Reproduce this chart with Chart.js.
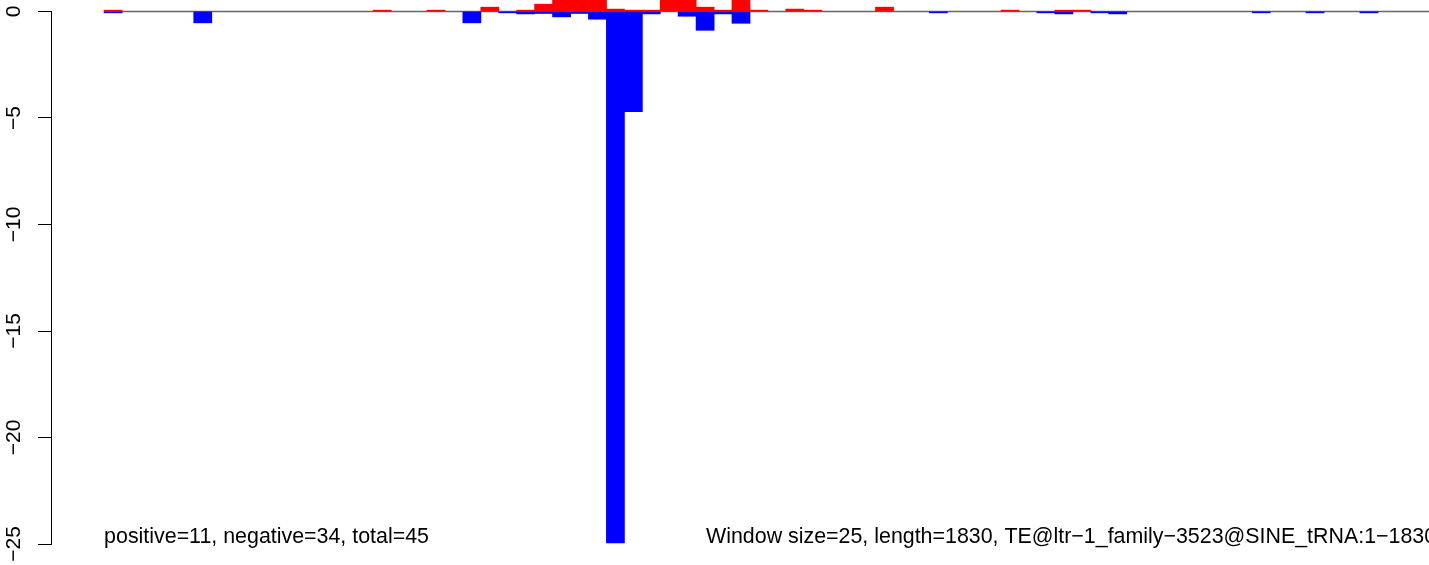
<!DOCTYPE html>
<html>
<head>
<meta charset="utf-8">
<script src="https://cdn.jsdelivr.net/npm/chart.js@4.4.1/dist/chart.umd.min.js"></script>
<style>
  body { margin: 0; background: #fff; }
  canvas { display: block; }
</style>
</head>
<body>
<canvas id="chart" width="1429" height="565"></canvas>
<script>
// window index (1 .. 74), one bar per window of 25
const windows = [
  1, 2, 3, 4, 5, 6, 7, 8, 9, 10, 11, 12, 13, 14, 15, 16, 17, 18, 19, 20,
  21, 22, 23, 24, 25, 26, 27, 28, 29, 30, 31, 32, 33, 34, 35, 36, 37, 38, 39, 40,
  41, 42, 43, 44, 45, 46, 47, 48, 49, 50, 51, 52, 53, 54, 55, 56, 57, 58, 59, 60,
  61, 62, 63, 64, 65, 66, 67, 68, 69, 70, 71, 72, 73, 74
];

// positive score per window (red)
const positive = [
  0.06, 0, 0, 0, 0, 0, 0, 0, 0, 0, 0, 0, 0, 0, 0, 0.06, 0, 0, 0.06, 0,
  0, 0.2, 0, 0.06, 0.34, 0.7, 0.7, 0.7, 0.11, 0.06, 0.06, 0.7, 0.7, 0.2, 0.06, 0.7, 0.06, 0, 0.11, 0.06,
  0, 0, 0, 0.2, 0, 0, 0, 0, 0, 0, 0.06, 0, 0, 0.06, 0.06, 0, 0, 0, 0, 0,
  0, 0, 0, 0, 0, 0, 0, 0, 0, 0, 0, 0, 0, 0
];

// negative score per window (blue)
const negative = [
  -0.06, 0, 0, 0, 0, -0.53, 0, 0, 0, 0, 0, 0, 0, 0, 0, 0, 0, 0, 0, 0,
  -0.53, 0, -0.06, -0.11, -0.09, -0.25, -0.09, -0.36, -24.95, -4.7, -0.11, 0, -0.22, -0.88, -0.11, -0.55, 0, 0, 0, 0,
  0, 0, 0, 0, 0, 0, -0.06, 0, 0, 0, 0, 0, -0.06, -0.11, 0, -0.06, -0.11, 0, 0, 0,
  0, 0, 0, 0, -0.06, 0, 0, -0.06, 0, 0, -0.06, 0, 0, 0
];

const yTicks = [-25, -20, -15, -10, -5, 0];

const leftNote = "positive=11, negative=34, total=45";
const rightNote = "Window size=25, length=1830, TE@ltr\u22121_family\u22123523@SINE_tRNA:1\u22121830";

const toPoints = (vals) => vals.map((v, i) => ({ x: windows[i] - 0.5, y: v }));

// no seams between neighbouring bars, but keep empty windows empty
const inflate = (ctx) => (ctx.raw && ctx.raw.y !== 0 ? 0.4 : 0);

const notes = {
  id: "notes",
  afterDraw(chart) {
    const ctx = chart.ctx;
    const xs = chart.scales.x;
    ctx.save();
    ctx.fillStyle = "#000";
    ctx.font = "21.4px 'Liberation Sans', Arial, sans-serif";
    ctx.textBaseline = "middle";
    ctx.textAlign = "left";
    ctx.fillText(leftNote, xs.getPixelForValue(0), 537);
    ctx.fillText(rightNote, 706, 537);
    ctx.restore();
  }
};

new Chart(document.getElementById("chart").getContext("2d"), {
  type: "bar",
  data: {
    datasets: [
      {
        label: "positive",
        data: toPoints(positive),
        backgroundColor: "#ff0000",
        borderWidth: 0,
        inflateAmount: inflate,
        order: 1,
        clip: false
      },
      {
        label: "negative",
        data: toPoints(negative),
        backgroundColor: "#0000ff",
        borderWidth: 0,
        inflateAmount: inflate,
        order: 1,
        clip: false
      },
      {
        type: "line",
        label: "baseline",
        data: [{ x: 0, y: 0 }, { x: windows.length, y: 0 }],
        borderColor: "#666666",
        borderWidth: 1.3,
        pointRadius: 0,
        order: 10,
        clip: false
      }
    ]
  },
  options: {
    responsive: false,
    animation: false,
    layout: { padding: { left: 0, right: 0, top: 11.5, bottom: 21 } },
    datasets: {
      bar: { grouped: false, barPercentage: 1, categoryPercentage: 1 }
    },
    plugins: {
      legend: { display: false },
      tooltip: { enabled: false }
    },
    scales: {
      x: {
        type: "linear",
        display: false,
        offset: false,
        min: -2.96,
        max: 73.85
      },
      y: {
        min: -25,
        max: 0,
        afterFit: (s) => {
          s.width = 51;
          s.paddingTop = 0;
          s.paddingBottom = 0;
        },
        afterBuildTicks: (s) => { s.ticks = yTicks.map((v) => ({ value: v })); },
        border: { display: true, color: "#000", width: 1 },
        grid: {
          drawOnChartArea: false,
          drawTicks: true,
          tickLength: 13,
          color: "#000",
          lineWidth: 1
        },
        ticks: {
          minRotation: 90,
          maxRotation: 90,
          crossAlign: "center",
          padding: 6,
          color: "#000",
          font: { family: "'Liberation Sans', Arial, sans-serif", size: 21 },
          callback: (v) => String(v).replace("-", "\u2212")
        }
      }
    }
  },
  plugins: [notes]
});
</script>
</body>
</html>
